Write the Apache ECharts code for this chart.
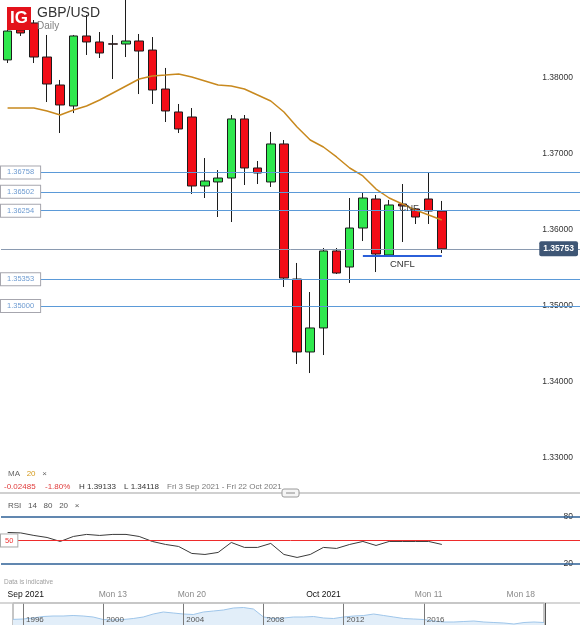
<!DOCTYPE html>
<html>
<head>
<meta charset="utf-8">
<title>GBP/USD Daily</title>
<script src="https://cdn.jsdelivr.net/npm/echarts@6/dist/echarts.min.js"></script>
<style>
  html, body { margin: 0; padding: 0; background: #fff; }
  #chart { width: 580px; height: 625px; }
</style>
</head>
<body>
<div id="chart"></div>
<script>
// daily sessions (IG keeps the short Sunday sessions), then empty days up to Fri 22 Oct
const dates = [
  'Fri 3 Sep', 'Sun 5 Sep', 'Mon 6 Sep', 'Tue 7 Sep', 'Wed 8 Sep', 'Thu 9 Sep', 'Fri 10 Sep',
  'Sun 12 Sep', 'Mon 13 Sep', 'Tue 14 Sep', 'Wed 15 Sep', 'Thu 16 Sep', 'Fri 17 Sep',
  'Sun 19 Sep', 'Mon 20 Sep', 'Tue 21 Sep', 'Wed 22 Sep', 'Thu 23 Sep', 'Fri 24 Sep',
  'Sun 26 Sep', 'Mon 27 Sep', 'Tue 28 Sep', 'Wed 29 Sep', 'Thu 30 Sep', 'Fri 1 Oct',
  'Sun 3 Oct', 'Mon 4 Oct', 'Tue 5 Oct', 'Wed 6 Oct', 'Thu 7 Oct', 'Fri 8 Oct',
  'Sun 10 Oct', 'Mon 11 Oct', 'Tue 12 Oct',
  'Wed 13 Oct', 'Thu 14 Oct', 'Fri 15 Oct', 'Sat 16 Oct', 'Sun 17 Oct', 'Mon 18 Oct',
  'Tue 19 Oct', 'Wed 20 Oct', 'Thu 21 Oct', 'Fri 22 Oct'
];

// [open, close, low, high]
const ohlc = [
  [1.38238, 1.38618, 1.38197, 1.38671],
  [1.38632, 1.38592, 1.38553, 1.38684],
  [1.38724, 1.38276, 1.38197, 1.38763],
  [1.38276, 1.37921, 1.37684, 1.38566],
  [1.37908, 1.37645, 1.37276, 1.37974],
  [1.37632, 1.38553, 1.37539, 1.38566],
  [1.38553, 1.38474, 1.38303, 1.38829],
  [1.38474, 1.38329, 1.38263, 1.38605],
  [1.38450, 1.38445, 1.37987, 1.38566],
  [1.38447, 1.38487, 1.38276, 1.39133],
  [1.38487, 1.38355, 1.37789, 1.38579],
  [1.38368, 1.37842, 1.37658, 1.38539],
  [1.37855, 1.37566, 1.37421, 1.38132],
  [1.37553, 1.37329, 1.37276, 1.37658],
  [1.37487, 1.36579, 1.36474, 1.37605],
  [1.36579, 1.36645, 1.36421, 1.36947],
  [1.36632, 1.36684, 1.36171, 1.36789],
  [1.36684, 1.37461, 1.36105, 1.37513],
  [1.37461, 1.36816, 1.36592, 1.37513],
  [1.36816, 1.36750, 1.36605, 1.36908],
  [1.36632, 1.37132, 1.36566, 1.37290],
  [1.37132, 1.35368, 1.35250, 1.37184],
  [1.35355, 1.34395, 1.34237, 1.35566],
  [1.34395, 1.34711, 1.34118, 1.35184],
  [1.34711, 1.35724, 1.34355, 1.35763],
  [1.35724, 1.35434, 1.35421, 1.35763],
  [1.35513, 1.36026, 1.35303, 1.36421],
  [1.36026, 1.36421, 1.35855, 1.36487],
  [1.36408, 1.35684, 1.35447, 1.36461],
  [1.35671, 1.36329, 1.35645, 1.36395],
  [1.36342, 1.36316, 1.35842, 1.36605],
  [1.36276, 1.36171, 1.36079, 1.36289],
  [1.36408, 1.36250, 1.36079, 1.36750],
  [1.36250, 1.35753, 1.35697, 1.36382]
];

const ma20 = [
  1.37605, 1.37605, 1.37605, 1.37566, 1.37513, 1.37579, 1.37632, 1.37711, 1.37803, 1.37895,
  1.37987, 1.38026, 1.38039, 1.38053, 1.38013, 1.37961, 1.37908, 1.37895, 1.37855, 1.37776,
  1.37697, 1.37553, 1.37355, 1.37184, 1.37092, 1.36961, 1.36816, 1.36711, 1.36539, 1.36421,
  1.36342, 1.36263, 1.36197, 1.36132
];

const rsi14 = [
  60.2, 59.6, 56.4, 53.8, 48.7, 55.1, 57.7, 56.4, 57.7, 57.7,
  55.1, 48.7, 44.9, 42.3, 33.4, 32.1, 34.7, 47.4, 41.1, 41.1,
  46.2, 32.1, 28.3, 32.1, 41.1, 39.8, 44.9, 48.7, 43.6, 48.7,
  48.7, 48.7, 48.7, 44.9
];

const priceLevels = [1.36758, 1.36502, 1.36254, 1.35353, 1.35000];
const lastPrice = 1.35753;
const cnflLevel = 1.35658;
const cnflFrom = 'Tue 5 Oct';
const cnflTo = 'Tue 12 Oct';
const cnfNote = { date: 'Fri 8 Oct', price: 1.36289 };

const tickDates = ['Fri 3 Sep', 'Mon 13 Sep', 'Mon 20 Sep', 'Fri 1 Oct', 'Mon 11 Oct', 'Mon 18 Oct'];
const tickLabels = ['Sep 2021', 'Mon 13', 'Mon 20', 'Oct 2021', 'Mon 11', 'Mon 18'];

// long history strip under the chart, one point per half year
const navPeriods = [
  '1995 H2', '1996', '1996 H2', '1997', '1997 H2', '1998', '1998 H2', '1999', '1999 H2',
  '2000', '2000 H2', '2001', '2001 H2', '2002', '2002 H2', '2003', '2003 H2', '2004', '2004 H2',
  '2005', '2005 H2', '2006', '2006 H2', '2007', '2007 H2', '2008', '2008 H2', '2009', '2009 H2',
  '2010', '2010 H2', '2011', '2011 H2', '2012', '2012 H2', '2013', '2013 H2', '2014', '2014 H2',
  '2015', '2015 H2', '2016', '2016 H2', '2017', '2017 H2', '2018', '2018 H2', '2019', '2019 H2',
  '2020', '2020 H2', '2021', '2021 H2', '2022'
];
const navValues = [
  1.38, 1.40, 1.45, 1.525, 1.55, 1.55, 1.575, 1.55, 1.50,
  1.375, 1.35, 1.375, 1.425, 1.50, 1.65, 1.75, 1.70, 1.65, 1.625,
  1.75, 1.80, 1.85, 1.95, 1.975, 1.90, 1.50, 1.425, 1.45, 1.50,
  1.50, 1.525, 1.45, 1.425, 1.50, 1.55, 1.575, 1.65, 1.575, 1.50,
  1.425, 1.40, 1.375, 1.30, 1.25, 1.25, 1.275, 1.30, 1.25, 1.225,
  1.20, 1.15, 1.225, 1.25, 1.225
];
const navYears = ['1996', '2000', '2004', '2008', '2012', '2016'];

const FONT = '"Liberation Sans", Arial, sans-serif';

const chart = echarts.init(document.getElementById('chart'));

const levelLines = priceLevels.map(v => ({
  yAxis: v,
  lineStyle: { color: '#5b9ad8', width: 1.2, type: 'solid' },
  label: {
    show: true,
    position: 'insideStart',
    distance: 0,
    formatter: v.toFixed(5),
    color: '#6d9bd1',
    fontSize: 7.5,
    fontFamily: FONT,
    backgroundColor: '#fff',
    borderColor: '#a6a6ae',
    borderWidth: 1,
    padding: [2, 6]
  }
}));

const option = {
  animation: false,
  textStyle: { fontFamily: FONT },
  grid: [
    { left: 1, right: 0, top: 2, height: 532 },
    { left: 1, right: 0, top: 501.3, height: 78.3 },
    { left: 13, right: 36, top: 603, height: 22, show: true, borderColor: '#8c8c8c', borderWidth: 1 }
  ],
  xAxis: [
    {
      type: 'category', gridIndex: 0, data: dates,
      axisLine: { show: false }, axisTick: { show: false },
      axisLabel: { show: false }, splitLine: { show: false }
    },
    {
      type: 'category', gridIndex: 1, data: dates,
      axisLine: { show: false }, axisTick: { show: false }, splitLine: { show: false },
      axisLabel: {
        interval: (i, v) => tickDates.includes(v),
        alignMinLabel: 'left',
        margin: 11,
        formatter: v => {
          const t = tickLabels[tickDates.indexOf(v)];
          return t.indexOf('2021') > 0 ? '{m|' + t + '}' : '{d|' + t + '}';
        },
        rich: {
          m: { fontSize: 8.5, color: '#111', fontFamily: FONT },
          d: { fontSize: 8.5, color: '#8a8a8a', fontFamily: FONT }
        }
      }
    },
    {
      type: 'category', gridIndex: 2, data: navPeriods, boundaryGap: false, z: 5,
      axisLine: { show: false }, axisTick: { show: false },
      axisLabel: {
        inside: true, margin: 1, interval: (i, v) => navYears.includes(v),
        align: 'left', padding: [0, 0, 0, 3],
        fontSize: 8, color: '#555', fontFamily: FONT
      },
      splitLine: {
        show: true, interval: (i, v) => navYears.includes(v),
        lineStyle: { color: '#7a7a7a', width: 1 }
      }
    }
  ],
  yAxis: [
    {
      type: 'value', gridIndex: 0, position: 'right', min: 1.32, max: 1.39, interval: 0.01,
      axisLine: { show: false }, axisTick: { show: false }, splitLine: { show: false },
      axisLabel: {
        inside: true, margin: 7, fontSize: 8.5, color: '#333', fontFamily: FONT,
        formatter: v => {
          const k = Math.round(v * 100);
          return k >= 133 && k <= 138 ? v.toFixed(5) : '';
        }
      }
    },
    {
      type: 'value', gridIndex: 1, position: 'right', min: 0, max: 100, interval: 10,
      axisLine: { show: false }, axisTick: { show: false }, splitLine: { show: false },
      axisLabel: {
        inside: true, margin: 7, fontSize: 8.5, color: '#333', fontFamily: FONT,
        formatter: v => (v === 80 || v === 20 ? String(v) : '')
      }
    },
    { type: 'value', gridIndex: 2, min: 1.1, max: 2.2, show: false }
  ],
  series: [
    {
      name: 'GBP/USD',
      type: 'candlestick',
      xAxisIndex: 0, yAxisIndex: 0,
      data: ohlc,
      barWidth: 9,
      itemStyle: {
        color: '#2fe84e', color0: '#f20d17',
        borderColor: '#1c1c1c', borderColor0: '#1c1c1c', borderWidth: 1
      },
      markPoint: {
        silent: true,
        symbol: 'circle',
        symbolSize: 0,
        data: [{
          coord: [cnfNote.date, cnfNote.price],
          label: {
            show: true, position: 'inside', align: 'left', offset: [-3, 0],
            formatter: 'CNF', color: '#444', fontSize: 9.5, fontFamily: FONT
          }
        }]
      },
      markLine: {
        silent: true,
        symbol: 'none',
        precision: 5,
        label: { show: false },
        data: levelLines.concat([
          {
            yAxis: lastPrice,
            lineStyle: { color: '#8a9ab0', width: 1, type: 'solid' },
            label: {
              show: true, position: 'insideEnd', distance: 2,
              formatter: lastPrice.toFixed(5),
              color: '#fff', fontWeight: 'bold', fontSize: 8.5, fontFamily: FONT,
              backgroundColor: '#3e5675', padding: [3, 4], borderRadius: 2
            }
          },
          [
            {
              coord: [cnflFrom, cnflLevel],
              lineStyle: { color: '#2b5fd9', width: 2, type: 'solid' },
              label: {
                show: true, position: 'insideMiddleBottom', distance: 3,
                formatter: 'CNFL', color: '#333', fontSize: 9.5, fontFamily: FONT
              }
            },
            { coord: [cnflTo, cnflLevel] }
          ]
        ])
      }
    },
    {
      name: 'MA 20',
      type: 'line',
      xAxisIndex: 0, yAxisIndex: 0,
      data: ma20,
      symbol: 'none',
      lineStyle: { color: '#c8891e', width: 1.5 },
      z: 3
    },
    {
      name: 'RSI',
      type: 'line',
      xAxisIndex: 1, yAxisIndex: 1,
      data: rsi14,
      symbol: 'none',
      lineStyle: { color: '#3a3a3a', width: 1 },
      markLine: {
        silent: true,
        symbol: 'none',
        label: { show: false },
        data: [
          { yAxis: 80, lineStyle: { color: '#2d5f96', width: 1.5, type: 'solid' } },
          { yAxis: 20, lineStyle: { color: '#2d5f96', width: 1.5, type: 'solid' } },
          {
            yAxis: 50,
            lineStyle: { color: '#ee2b2b', width: 1, type: 'solid' },
            label: {
              show: true, position: 'insideStart', distance: 0, formatter: '50',
              color: '#e33', fontSize: 7.5, fontFamily: FONT,
              backgroundColor: '#fff', borderColor: '#aaa', borderWidth: 1, padding: [2, 4]
            }
          }
        ]
      }
    },
    {
      name: 'history',
      type: 'line',
      xAxisIndex: 2, yAxisIndex: 2,
      data: navValues,
      symbol: 'none',
      z: 1,
      lineStyle: { color: '#9fc6ea', width: 1 },
      areaStyle: { color: '#e2eef9', opacity: 1 }
    }
  ],
  graphic: [
    { type: 'rect', left: 7, top: 7, z: 100, shape: { width: 24, height: 23 }, style: { fill: '#e3121b' } },
    { type: 'text', left: 10, top: 10, z: 101, style: { text: 'IG', fill: '#fff', font: 'bold 17px ' + FONT } },
    { type: 'text', left: 37, top: 6, z: 100, style: { text: 'GBP/USD', fill: '#333', font: '14px ' + FONT } },
    { type: 'text', left: 37, top: 21, z: 100, style: { text: 'Daily', fill: '#808080', font: '10px ' + FONT } },
    {
      type: 'text', left: 8, top: 468, z: 100,
      style: {
        text: '{a|MA}  {b|20}  {a|×}',
        rich: {
          a: { fill: '#666', font: '8px ' + FONT },
          b: { fill: '#d49a1c', font: '8px ' + FONT }
        }
      }
    },
    { type: 'text', left: 4, top: 483, z: 100, style: { text: '-0.02485', fill: '#e03b3b', font: '8px ' + FONT } },
    { type: 'text', left: 45, top: 483, z: 100, style: { text: '-1.80%', fill: '#e03b3b', font: '8px ' + FONT } },
    { type: 'text', left: 79, top: 483, z: 100, style: { text: 'H 1.39133', fill: '#333', font: '8px ' + FONT } },
    { type: 'text', left: 124, top: 483, z: 100, style: { text: 'L 1.34118', fill: '#333', font: '8px ' + FONT } },
    { type: 'text', left: 167, top: 483, z: 100, style: { text: 'Fri 3 Sep 2021 - Fri 22 Oct 2021', fill: '#7a7a7a', font: '8px ' + FONT } },
    { type: 'line', z: 100, shape: { x1: 0, y1: 493, x2: 580, y2: 493 }, style: { stroke: '#d0d0d0', lineWidth: 2 } },
    { type: 'rect', z: 101, shape: { x: 282, y: 489, width: 17, height: 8, r: 2 }, style: { fill: '#f5f5f5', stroke: '#9a9a9a', lineWidth: 1 } },
    { type: 'line', z: 102, shape: { x1: 286, y1: 493, x2: 295, y2: 493 }, style: { stroke: '#8a8a8a', lineWidth: 1 } },
    {
      type: 'text', left: 8, top: 502, z: 100,
      style: { text: 'RSI   14   80   20   ×', fill: '#555', font: '8px ' + FONT }
    },
    { type: 'text', left: 4, top: 579, z: 100, style: { text: 'Data is indicative', fill: '#a0a0a0', font: '6.5px ' + FONT } },
    { type: 'line', z: 100, shape: { x1: 0, y1: 603, x2: 580, y2: 603 }, style: { stroke: '#c8c8c8', lineWidth: 1.5 } },
    { type: 'line', z: 100, shape: { x1: 545.5, y1: 603, x2: 545.5, y2: 625 }, style: { stroke: '#555', lineWidth: 1 } }
  ]
};

chart.setOption(option);
</script>
</body>
</html>
